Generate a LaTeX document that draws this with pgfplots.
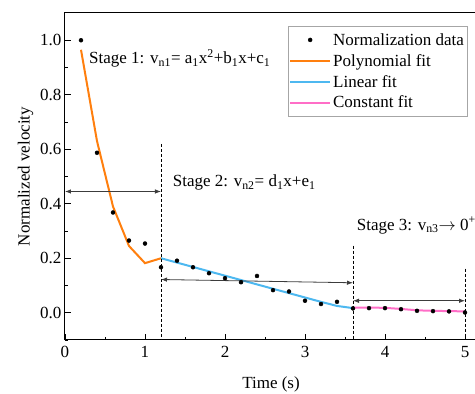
\documentclass[border=0pt]{standalone}
\usepackage{fontspec}
\setmainfont{Liberation Serif}
\usepackage{pgfplots}
\pgfplotsset{compat=1.18}
\usetikzlibrary{arrows.meta}
\definecolor{orng}{RGB}{255,127,14}
\definecolor{skyb}{RGB}{77,184,240}
\definecolor{pnk}{RGB}{255,110,199}
\definecolor{arr}{RGB}{60,60,60}
\pgfplotsset{
  linelegend/.style={legend image code/.code={\draw[##1] (0pt,0pt) -- (40pt,0pt);}},
  dotlegend/.style={legend image code/.code={\draw[##1] plot coordinates {(20pt,0pt)};}},
}

\begin{document}
\begin{tikzpicture}
\begin{axis}[
  scale only axis, width=412pt, height=327pt,
  xmin=0, xmax=5.15, ymin=-0.1, ymax=1.1,
  font=\fontsize{17}{20}\selectfont,
  /pgf/number format/assume math mode=true,
  xtick={0,1,2,3,4,5}, minor xtick={0.5,1.5,2.5,3.5,4.5},
  ytick={0,0.2,0.4,0.6,0.8,1.0}, minor ytick={-0.1,0.1,0.3,0.5,0.7,0.9},
  yticklabel style={/pgf/number format/.cd, fixed, fixed zerofill, precision=1},
  xticklabel style={yshift=-3pt},
  xlabel style={yshift=-12pt},
  xtick pos=bottom, ytick pos=left, tick align=inside,
  major tick length=6pt, minor tick length=3pt,
  tick style={black, line width=0.9pt},
  axis line style={line width=1pt},
  xlabel={Time (s)}, ylabel={Normalized velocity},
  clip=false,
  legend style={at={(0.976,0.96)}, anchor=north east, draw=gray!70, fill=white,
    font=\fontsize{17}{19}\selectfont, inner xsep=1pt, inner ysep=5pt, row sep=3.5pt,
    cells={anchor=west}},
  legend cell align=left,
]
\addplot[only marks, mark=*, mark size=2pt, black, dotlegend]
  coordinates {(0.2,1.0)(0.4,0.587)(0.6,0.368)(0.8,0.265)(1.0,0.254)(1.2,0.167)
  (1.4,0.191)(1.6,0.167)(1.8,0.145)(2.0,0.127)(2.2,0.112)(2.4,0.135)(2.6,0.083)
  (2.8,0.078)(3.0,0.044)(3.2,0.032)(3.4,0.040)(3.6,0.016)(3.8,0.017)(4.0,0.017)
  (4.2,0.013)(4.4,0.007)(4.6,0.006)(4.8,0.005)(5.0,0.001)};
\addlegendentry{Normalization data}
\addplot[orng, line width=2pt, no marks, linelegend]
  coordinates {(0.2,0.965)(0.4,0.63)(0.6,0.39)(0.8,0.245)(1.0,0.182)(1.2,0.2)};
\addlegendentry{Polynomial fit}
\addplot[skyb, line width=2pt, no marks, linelegend]
  coordinates {(1.2,0.2)(1.4,0.184)(1.6,0.168)(1.8,0.152)(2.0,0.136)(2.2,0.12)
  (2.4,0.104)(2.6,0.088)(2.8,0.072)(3.0,0.056)(3.2,0.040)(3.4,0.025)(3.6,0.017)};
\addlegendentry{Linear fit}
\addplot[pnk, line width=2pt, no marks, linelegend]
  coordinates {(3.6,0.019)(3.8,0.019)(4.0,0.018)(4.2,0.014)(4.4,0.009)(4.6,0.007)(4.8,0.006)(5.0,0.005)};
\addlegendentry{Constant fit}

\draw[black, line width=0.7pt, dash pattern=on 3pt off 2pt] (axis cs:1.2,0.62) -- (axis cs:1.2,-0.1);
\draw[black, line width=0.7pt, dash pattern=on 3pt off 2pt] (axis cs:3.6,0.246) -- (axis cs:3.6,-0.1);
\draw[black, line width=0.7pt, dash pattern=on 3pt off 2pt] (axis cs:5.0,0.162) -- (axis cs:5.0,-0.1);

\draw[arr, line width=0.8pt, {Latex[length=6pt,width=4.5pt]}-{Latex[length=6pt,width=4.5pt]}] (axis cs:0,0.445) -- (axis cs:1.2,0.445);
\draw[arr, line width=0.8pt, {Latex[length=6pt,width=4.5pt]}-{Latex[length=6pt,width=4.5pt]}] (axis cs:1.2,0.122) -- (axis cs:3.6,0.110);
\draw[arr, line width=0.8pt, {Latex[length=6pt,width=4.5pt]}-{Latex[length=6pt,width=4.5pt]}] (axis cs:3.6,0.044) -- (axis cs:5.0,0.044);

\node[anchor=west, inner sep=0pt] at (axis cs:0.30,0.934) {Stage 1: v\textsubscript{n1}= a\textsubscript{1}x\textsuperscript{2}+b\textsubscript{1}x+c\textsubscript{1}};
\node[anchor=west, inner sep=0pt] at (axis cs:1.346,0.478) {Stage 2: v\textsubscript{n2}= d\textsubscript{1}x+e\textsubscript{1}};
\node[anchor=west, inner sep=0pt] at (axis cs:3.646,0.32) {Stage 3: v\textsubscript{n3}$\rightarrow$ 0\textsuperscript{+}};

\coordinate (SW) at (rel axis cs:0,0);
\coordinate (NE) at (rel axis cs:1,1);
\end{axis}
\pgfresetboundingbox
\path[use as bounding box] ([shift={(-65pt,-54pt)}]SW) rectangle ([shift={(-2pt,13pt)}]NE);
\end{tikzpicture}
\end{document}
